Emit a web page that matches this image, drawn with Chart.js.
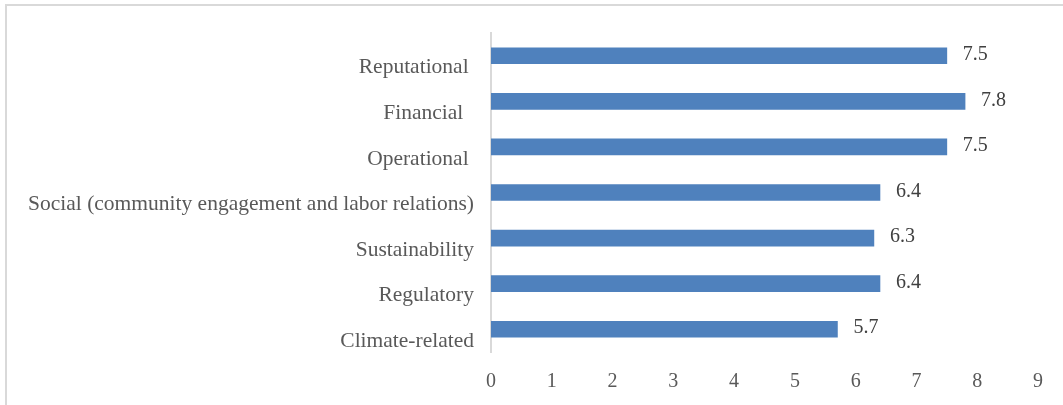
<!DOCTYPE html>
<html>
<head>
<meta charset="utf-8">
<script src="https://cdn.jsdelivr.net/npm/chart.js@4.4.0/dist/chart.umd.min.js"></script>
<style>
  html, body { margin: 0; padding: 0; background: #fff; }
  #wrap { position: relative; width: 1063px; height: 405px; overflow: hidden; }
  #frame { position: absolute; left: 5px; top: 4px; width: 1100px; height: 500px; border-top: 2px solid #d9d9d9; border-left: 2px solid #d9d9d9; box-sizing: border-box; }
  canvas { position: absolute; left: 0; top: 0; }
</style>
</head>
<body>
<div id="wrap">
  <div id="frame"></div>
  <canvas id="c" width="1063" height="405"></canvas>
</div>
<script>
const categories = ["Reputational ", "Financial  ", "Operational ", "Social (community engagement and labor relations)", "Sustainability", "Regulatory", "Climate-related"];
const values = [7.5, 7.8, 7.5, 6.4, 6.3, 6.4, 5.7];
const xTicks = [0, 1, 2, 3, 4, 5, 6, 7, 8, 9];

const FONT = "'Liberation Serif', 'Times New Roman', serif";

const valueLabels = {
  id: 'valueLabels',
  afterDatasetsDraw(chart) {
    const ctx = chart.ctx;
    const meta = chart.getDatasetMeta(0);
    ctx.save();
    ctx.font = "20px " + FONT;
    ctx.fillStyle = "#404040";
    ctx.textAlign = "left";
    ctx.textBaseline = "middle";
    meta.data.forEach((bar, i) => {
      ctx.fillText(values[i].toFixed(1), bar.x + 16, bar.y - 1);
    });
    ctx.restore();
  }
};

new Chart(document.getElementById('c'), {
  type: 'bar',
  data: {
    labels: categories,
    datasets: [{
      data: values,
      backgroundColor: '#4f81bd',
      borderWidth: 0,
      barThickness: 16
    }]
  },
  options: {
    indexAxis: 'y',
    responsive: false,
    animation: false,
    devicePixelRatio: 1,
    layout: { padding: { top: 33, right: 25, left: 0, bottom: 0 } },
    plugins: { legend: { display: false }, tooltip: { enabled: false } },
    scales: {
      x: {
        min: 0, max: 9,
        afterBuildTicks(scale) { scale.ticks = xTicks.map(v => ({ value: v })); },
        grid: { display: false },
        border: { display: false },
        ticks: { color: '#595959', font: { family: FONT, size: 20 }, padding: 10 },
        afterFit(scale) { scale.height = 53; }
      },
      y: {
        grid: { display: false, drawTicks: false },
        border: { display: true, color: '#d9d9d9', width: 2 },
        ticks: { color: '#595959', font: { family: FONT, size: 21.5 }, padding: 17, labelOffset: 12, autoSkip: false },
        afterFit(scale) { scale.width = 491; }
      }
    }
  },
  plugins: [valueLabels]
});
</script>
</body>
</html>
